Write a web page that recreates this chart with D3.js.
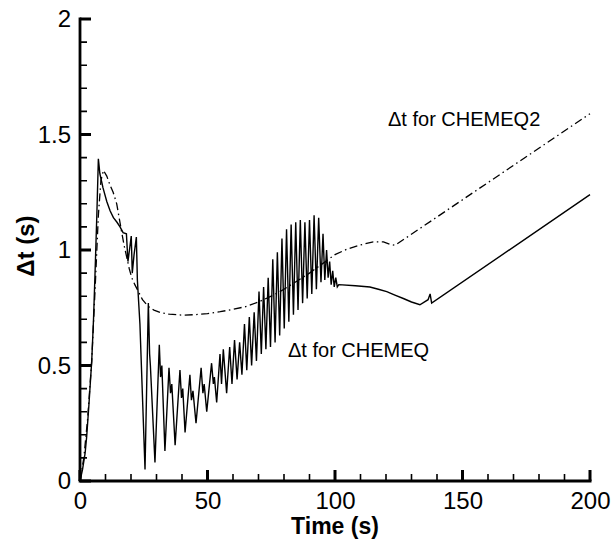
<!DOCTYPE html>
<html><head><meta charset="utf-8">
<script src="https://cdn.jsdelivr.net/npm/d3@7"></script>
<style>body{margin:0;background:#fff}svg{display:block}</style>
</head><body>
<script>
// ---- data ----
const chemeqT = [0,1,2,2.6,3.5,4.6,5.3,5.9,6.6,7.2,7.8,9,10.5,11.8,13.1,14.5,15.7,16.9,18.2,18.8,19.4,20.1,20.5,21.2,22.1,22.5,23.5,25.5,26.8,27.3,27.6,29.4,31.1,31.6,32.1,33.3,34.9,35.5,36,37.3,39.2,39.8,40.3,41.2,43.1,43.7,44.3,45.5,47.5,48.2,48.7,49.7,51.6,52.3,52.7,53.6,54.9,55.5,56.2,57.5,58.7,59.6,60.6,61.6,62.6,63.5,64.5,65.4,66.4,67.3,68.3,69.2,70.2,71.1,72,72.9,73.8,74.7,75.6,76.5,77.4,78.3,79.2,80.1,81,81.9,82.8,83.7,84.6,85.5,86.4,87.3,88.2,89.1,90,90.9,91.8,92.7,93.6,94.5,95.3,96,96.7,97.3,97.9,98.5,99.1,99.7,100.3,100.9,101.5,108,113.7,117,120.3,123.5,126.8,130,133.3,136.5,137.3,137.9,200];
const chemeqDt = [0,0.05,0.12,0.19,0.33,0.52,0.7,0.9,1.15,1.395,1.33,1.27,1.21,1.17,1.14,1.12,1.1,1.075,1.07,0.95,1.0,1.06,0.9,0.98,1.056,0.87,0.68,0.05,0.77,0.55,0.5,0.08,0.59,0.45,0.5,0.13,0.49,0.38,0.42,0.155,0.48,0.36,0.4,0.21,0.46,0.35,0.39,0.25,0.49,0.38,0.42,0.30,0.51,0.42,0.45,0.34,0.55,0.42,0.57,0.38,0.58,0.42,0.61,0.44,0.60,0.46,0.68,0.48,0.71,0.50,0.73,0.52,0.82,0.55,0.84,0.57,0.88,0.58,0.96,0.60,0.99,0.63,1.05,0.66,1.09,0.69,1.11,0.72,1.12,0.74,1.13,0.77,1.12,0.79,1.13,0.81,1.15,0.83,1.14,0.86,1.07,0.87,1.0,0.88,0.95,0.85,0.91,0.84,0.88,0.84,0.85,0.845,0.84,0.83,0.82,0.805,0.79,0.775,0.763,0.785,0.81,0.77,1.24];
const chemeq2T = [0,1.5,3,4.6,6,7.2,8.2,9.2,10.5,11.8,13,14.4,15.5,16.3,17.3,18.3,19.3,20.3,21.5,22.9,24.5,26.8,29,31.4,35,40,45,50,55,60,65,70,75,80,85,90,95,100,105,110,115,119,121.5,123.5,200];
const chemeq2Dt = [0,0.1,0.27,0.52,0.85,1.15,1.3,1.345,1.32,1.28,1.25,1.2,1.13,1.08,1.02,0.97,0.92,0.88,0.85,0.82,0.785,0.755,0.74,0.73,0.722,0.718,0.72,0.725,0.733,0.743,0.755,0.775,0.8,0.83,0.865,0.9,0.94,0.98,1.005,1.022,1.035,1.035,1.025,1.02,1.59];
const xTicks = [0,50,100,150,200];
const xMinorTicks = [10,20,30,40,60,70,80,90,110,120,130,140,160,170,180,190];
const yTicks = [0,0.5,1,1.5,2];
const yTickLabels = ["0","0.5","1","1.5","2"];
const yMinorTicks = [0.1,0.2,0.3,0.4,0.6,0.7,0.8,0.9,1.1,1.2,1.3,1.4,1.6,1.7,1.8,1.9];
const annotations = ["\u0394t for CHEMEQ2","\u0394t for CHEMEQ"];

// ---- layout ----
const W=613,H=539;
const x0=80,x1=590,yb=481,yt=19;
const svg=d3.select("body").append("svg").attr("width",W).attr("height",H);
const x=d3.scaleLinear().domain([0,200]).range([x0,x1]);
const y=d3.scaleLinear().domain([0,2]).range([yb,yt]);
const font="'Liberation Sans',Arial,Helvetica,sans-serif";

// tick labels via axes (tick lines drawn separately)
const gx=svg.append("g").attr("transform",`translate(0,${yb})`)
  .call(d3.axisBottom(x).tickValues(xTicks).tickSize(0).tickPadding(11).tickFormat(d3.format("d")));
const gy=svg.append("g").attr("transform",`translate(${x0},0)`)
  .call(d3.axisLeft(y).tickValues(yTicks).tickSize(0).tickPadding(9).tickFormat((d,i)=>yTickLabels[i]));
[gx,gy].forEach(g=>{
  g.select(".domain").remove();
  g.selectAll("text").attr("font-family",font).attr("font-size",24).attr("fill","#000");
});

// ticks (inward), drawn as one path per set
const tickPath=d3.path();
xMinorTicks.forEach(d=>{tickPath.moveTo(x(d),yb);tickPath.lineTo(x(d),yb-7);});
yMinorTicks.forEach(d=>{tickPath.moveTo(x0,y(d));tickPath.lineTo(x0+7,y(d));});
svg.append("path").attr("d",tickPath.toString()).attr("fill","none").attr("stroke","#000").attr("stroke-width",1.6);
const majPath=d3.path();
xTicks.forEach(d=>{majPath.moveTo(x(d),yb);majPath.lineTo(x(d),yb-11);});
yTicks.forEach(d=>{majPath.moveTo(x0,y(d));majPath.lineTo(x0+11,y(d));});
svg.append("path").attr("d",majPath.toString()).attr("fill","none").attr("stroke","#000").attr("stroke-width",3);

// axis lines
svg.append("line").attr("x1",x0-1.3).attr("x2",x1+1.5).attr("y1",yb).attr("y2",yb).attr("stroke","#000").attr("stroke-width",2.8);
svg.append("line").attr("x1",x0).attr("x2",x0).attr("y1",yt-1.5).attr("y2",yb).attr("stroke","#000").attr("stroke-width",2.8);

// axis titles
svg.append("text").attr("x",(x0+x1)/2).attr("y",534).attr("text-anchor","middle")
  .attr("font-family",font).attr("font-weight","bold").attr("font-size",23).text("Time (s)");
svg.append("text").attr("transform",`translate(34,${y(1)-4}) rotate(-90)`).attr("text-anchor","middle")
  .attr("font-family",font).attr("font-weight","bold").attr("font-size",24).text("\u0394t (s)");

// lines
const line=d3.line().x(d=>x(d[0])).y(d=>y(d[1]));
svg.append("path").datum(chemeq2T.map((t,i)=>[t,chemeq2Dt[i]]))
  .attr("d",line).attr("fill","none").attr("stroke","#000").attr("stroke-width",1.3)
  .attr("stroke-dasharray","8,3.5,1.5,3.5");
svg.append("path").datum(chemeqT.map((t,i)=>[t,chemeqDt[i]]))
  .attr("d",line).attr("fill","none").attr("stroke","#000").attr("stroke-width",1.4)
  .attr("stroke-linejoin","miter");

// annotations
svg.append("text").attr("x",388).attr("y",126).attr("font-family",font).attr("font-size",20).text(annotations[0]);
svg.append("text").attr("x",288).attr("y",357).attr("font-family",font).attr("font-size",20).text(annotations[1]);
</script>
</body></html>
